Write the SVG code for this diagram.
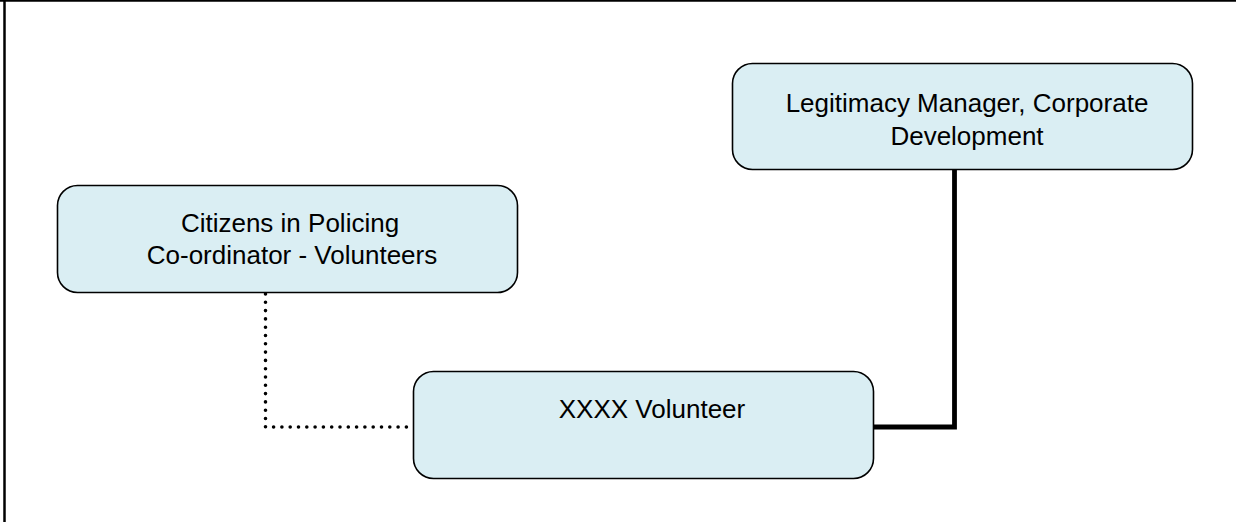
<svg xmlns="http://www.w3.org/2000/svg" width="1236" height="522" viewBox="0 0 1236 522">
<style>
.node{fill:#DAEEF3;stroke:#000;stroke-width:1.6}
.lbl{font-family:"Liberation Sans",Arial,sans-serif;font-size:26px;fill:#000;text-anchor:middle}
.frame{stroke:#000;stroke-width:2.5;fill:none}
</style>
<rect width="1236" height="522" fill="#fff"/>
<g id="frame">
<line class="frame" x1="4.5" y1="0" x2="4.5" y2="522"/>
<line class="frame" x1="0" y1="0.5" x2="1236" y2="0.5"/>
</g>
<g id="connectors">
<polyline points="265.5,294 265.5,427 413,427" fill="none" stroke="#000" stroke-width="3.6" stroke-linecap="round" stroke-dasharray="0 8.3"/>
<polyline points="874,427 954.5,427 954.5,170" fill="none" stroke="#000" stroke-width="4.8" stroke-linejoin="miter"/>
</g>
<g id="node-legitimacy">
<rect class="node" x="732.5" y="63.5" width="460" height="106" rx="20" ry="20"/>
<text class="lbl" x="967" y="112">Legitimacy Manager, Corporate</text>
<text class="lbl" x="967" y="145">Development</text>
</g>
<g id="node-citizens">
<rect class="node" x="57.5" y="185.5" width="460" height="107" rx="20" ry="20"/>
<text class="lbl" x="290" y="232">Citizens in Policing</text>
<text class="lbl" x="292" y="264">Co-ordinator - Volunteers</text>
</g>
<g id="node-volunteer">
<rect class="node" x="413.5" y="371.5" width="460" height="107" rx="20" ry="20"/>
<text class="lbl" x="652" y="418">XXXX Volunteer</text>
</g>
</svg>
